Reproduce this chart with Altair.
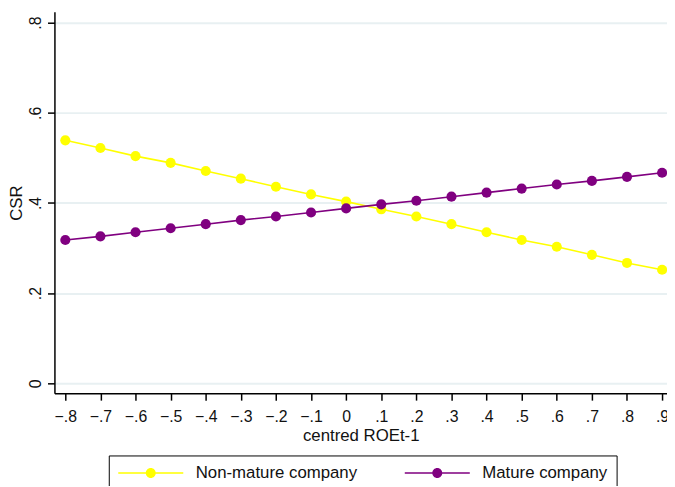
import altair as alt
import pandas as pd

roe = [-0.8, -0.7, -0.6, -0.5, -0.4, -0.3, -0.2, -0.1, 0.0,
       0.1, 0.2, 0.3, 0.4, 0.5, 0.6, 0.7, 0.8, 0.9]
non_mature = [0.539, 0.522, 0.504, 0.489, 0.471, 0.454, 0.436, 0.419, 0.403,
              0.386, 0.370, 0.353, 0.335, 0.318, 0.303, 0.285, 0.267, 0.252]
mature = [0.318, 0.326, 0.335, 0.344, 0.353, 0.362, 0.370, 0.379, 0.388,
          0.397, 0.405, 0.414, 0.423, 0.432, 0.441, 0.449, 0.458, 0.467]
groups = ["Non-mature company", "Mature company"]
colors = ["#ffff00", "#800080"]
x_ticks = roe
y_ticks = [0, 0.2, 0.4, 0.6, 0.8]

df = pd.DataFrame({
    "roe": roe + roe,
    "csr": non_mature + mature,
    "group": [groups[0]] * len(roe) + [groups[1]] * len(roe),
})

FONT = "Liberation Sans"
label_expr = "datum.value == 0 ? '0' : replace(format(datum.value, '.1f'), '0.', '.')"

# legend symbol: a line with a dot on it (scale = sqrt(size)/2 = 7)
sym = ("M-4.7,-0.12H4.7V0.12H-4.7Z "
       "M-0.72,0A0.72,0.72,0,1,1,0.72,0A0.72,0.72,0,1,1,-0.72,0Z")

x = alt.X("roe:Q",
          scale=alt.Scale(domain=[-0.831, 0.914], nice=False, zero=False),
          axis=alt.Axis(values=x_ticks, labelExpr=label_expr, title="centred ROEt-1",
                        grid=False, labelPadding=9, titlePadding=3, titleFontSize=17,
                        labelFlush=False, labelOverlap=False))
y = alt.Y("csr:Q",
          scale=alt.Scale(domain=[-0.022, 0.824], nice=False, zero=False),
          axis=alt.Axis(values=y_ticks, labelExpr=label_expr, title="CSR",
                        labelAngle=270, labelAlign="center", labelBaseline="bottom",
                        labelPadding=4, titlePadding=2.5, titleFontSize=17,
                        grid=True, gridColor="#e8f0f2", gridWidth=2))

color_scale = alt.Scale(domain=groups, range=colors)

layers = []
for g, c in zip(groups, colors):
    base = alt.Chart(df).transform_filter(alt.datum.group == g)
    line = base.mark_line(strokeWidth=1.6, color=c).encode(x=x, y=y)
    pts = base.mark_circle(size=105, opacity=1).encode(
        x=x, y=y,
        fill=alt.Fill("group:N", scale=color_scale,
                      legend=alt.Legend(
                          title=None, orient="none", legendX=55, legendY=449,
                          direction="horizontal",
                          symbolType=sym, symbolSize=196, symbolStrokeWidth=0,
                          symbolOffset=25, labelOffset=37,
                          labelFont=FONT, labelFontSize=17, labelColor="#111",
                          labelLimit=400, columnPadding=47, padding=9,
                          strokeColor="black", fillColor="white")),
    )
    layers += [line, pts]

chart = alt.layer(*layers).properties(
    width=620, height=386,
    autosize=alt.AutoSizeParams(type="none"),
    padding={"left": 47, "top": 1, "right": 0, "bottom": 91},
).configure_axis(
    labelFont=FONT, titleFont=FONT, labelFontSize=16, titleFontSize=16,
    labelColor="#111", titleColor="#111", titleFontWeight="normal",
    domainColor="black", domainWidth=1.5, tickColor="black", tickWidth=1.5, tickSize=7,
).configure_view(stroke=None)

chart.save("out.html", embed_options={"renderer": "svg", "actions": False})
